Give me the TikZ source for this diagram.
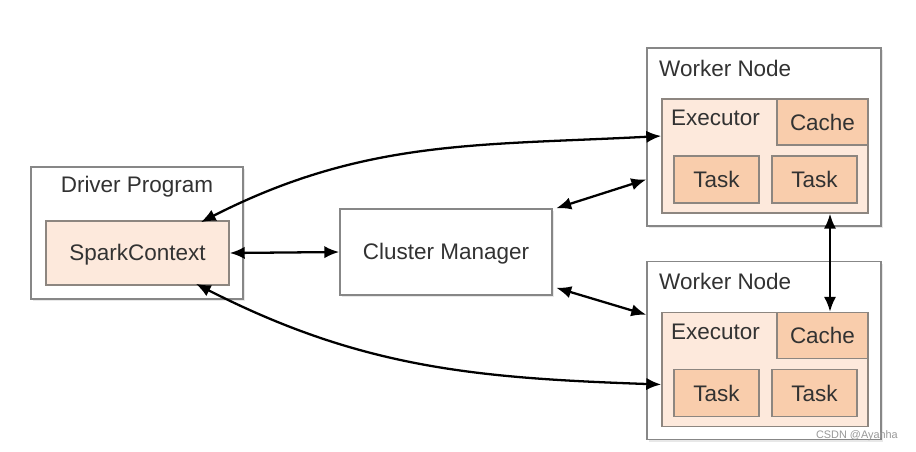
\documentclass[tikz,border=0pt]{standalone}
\usepackage{fontspec}
\setmainfont{Liberation Sans}
\usetikzlibrary{arrows.meta,shadows}
\definecolor{peachlight}{RGB}{253,233,220}
\definecolor{peachdark}{RGB}{249,205,172}
\definecolor{boxgrey}{RGB}{135,135,135}
\definecolor{txtgrey}{RGB}{50,50,50}
\begin{document}
\begin{tikzpicture}[x=0.02cm, y=-0.02cm,
        every node/.style={font=\fontsize{12.8}{15}\selectfont, text=txtgrey},
        outer/.style={draw=boxgrey, line width=0.9pt, fill=white,
            drop shadow={opacity=0.18, shadow xshift=1.2pt, shadow yshift=-1.2pt}},
        exec/.style={draw=boxgrey!90!brown, line width=0.9pt, fill=peachlight},
        part/.style={draw=boxgrey!90!brown, line width=0.9pt, fill=peachdark},
        link/.style={line width=1.3pt, black, {Latex[length=8.5pt,width=7pt]}-{Latex[length=8.5pt,width=7pt]}}]
        \useasboundingbox (0,0) rectangle (916,451);
        % driver program
        \node[outer, minimum width=4.24cm, minimum height=2.64cm] (drv) at (137,233) {};
        \node (drvlbl) at (137,187) {Driver Program};
        \node[exec, minimum width=3.66cm, minimum height=1.28cm, text depth=0pt, text height=9pt] (sc) at (137.5,253) {SparkContext};
        % cluster manager
        \node[outer, minimum width=4.24cm, minimum height=1.72cm, text depth=0pt, text height=9pt] (cm) at (446,252) {Cluster Manager};
        % worker nodes
        \foreach \n/\y in {1/0, 2/213.5} {
            \node[outer, minimum width=4.68cm, minimum height=3.56cm] (wn\n) at (764,137+\y) {};
            \node[anchor=west] (wnlbl\n) at (653,68+\y) {Worker Node};
            \node[exec, minimum width=4.12cm, minimum height=2.28cm] (ex\n) at (765,156+\y) {};
            \node[anchor=west] (exlbl\n) at (665,118+\y) {Executor};
            \node[part, minimum width=1.82cm, minimum height=0.92cm] (ca\n) at (822.5,122+\y) {Cache};
            \node[part, minimum width=1.70cm, minimum height=0.94cm] (ta\n) at (716.5,179.5+\y) {Task};
            \node[part, minimum width=1.70cm, minimum height=0.94cm] (tb\n) at (814.5,179.5+\y) {Task};
        }
        % connectors
        \draw[link] (sc.east) -- (cm.west);
        \draw[link] ([xshift=2pt]cm.north east) -- (wn1.west |- ta1);
        \draw[link] ([xshift=2pt,yshift=0.16cm]cm.south east) -- ([yshift=-0.06cm]wn2.west |- ex2.north);
        \draw[link] ([xshift=-0.58cm,yshift=-0.04cm]sc.north east) to[out=27, in=183] ([yshift=0.4cm]ex1.west);
        \draw[link] ([xshift=-0.68cm,yshift=0.04cm]sc.south east) to[out=-27, in=178] ([yshift=-0.3cm]ex2.west);
        \draw[link] ([xshift=0.15cm]ca2.north) -- ([xshift=0.15cm]ca2.north |- ex1.south);
        % watermark
        \node[font=\fontsize{6.2}{7}\selectfont, text=black!40, anchor=east] (mark) at (904,436) {CSDN @Ayanha};
    \end{tikzpicture}
\end{document}
